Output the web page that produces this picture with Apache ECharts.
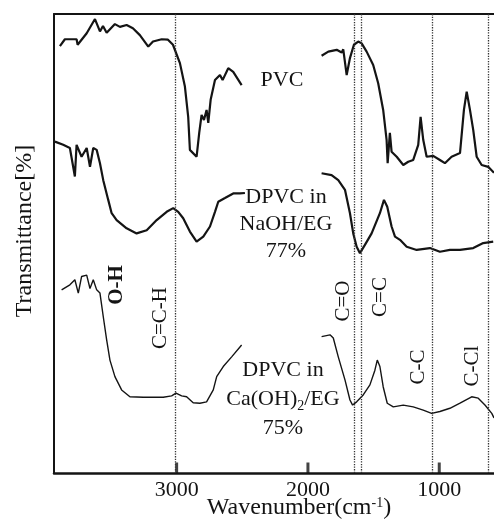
<!DOCTYPE html>
<html>
<head>
<meta charset="utf-8">
<script src="https://cdn.jsdelivr.net/npm/echarts@6/dist/echarts.min.js"></script>
<style>
  html, body { margin: 0; padding: 0; background: #fff; }
  #chart { width: 494px; height: 519px; }
</style>
</head>
<body>
<div id="chart"></div>
<script>
// FTIR spectra, [wavenumber (cm-1), transmittance (offset, a.u.)]
const pvcHigh = [
  [3889, 93.0], [3851, 94.5], [3762, 94.5], [3754, 93.3], [3685, 95.8], [3622, 98.9],
  [3584, 96.2], [3561, 97.4], [3533, 95.9], [3470, 97.8], [3432, 97.2], [3381, 97.6],
  [3333, 96.9], [3280, 95.4], [3216, 92.9], [3180, 94.0], [3114, 94.5], [3066, 94.4],
  [3028, 93.3], [2975, 89.3], [2937, 84.2], [2912, 77.6], [2899, 70.4], [2886, 70.0],
  [2848, 68.9], [2828, 74.1], [2810, 78.0], [2792, 76.9], [2772, 79.1], [2759, 76.3],
  [2741, 81.3], [2708, 85.6], [2670, 86.7], [2650, 85.6], [2607, 88.2], [2569, 87.4],
  [2505, 84.5]
];
const pvcLow = [
  [1896, 90.9], [1845, 91.8], [1781, 92.2], [1743, 91.6], [1731, 92.3], [1705, 86.7],
  [1680, 90.4], [1650, 93.3], [1617, 94.0], [1591, 93.6], [1553, 91.8], [1503, 88.9],
  [1465, 84.9], [1427, 79.1], [1401, 72.6], [1393, 67.5], [1376, 74.1], [1363, 70.0],
  [1324, 68.9], [1274, 67.1], [1236, 67.8], [1198, 68.2], [1160, 71.5], [1142, 77.6],
  [1122, 72.6], [1096, 68.9], [1046, 69.1], [995, 68.2], [957, 67.5], [906, 68.9],
  [842, 69.7], [812, 79.1], [791, 83.1], [766, 79.1], [741, 74.7], [715, 68.9],
  [677, 67.1], [627, 66.7], [583, 65.4]
];
const naohHigh = [
  [3927, 72.2], [3864, 71.5], [3813, 70.8], [3775, 64.6], [3762, 71.5], [3724, 68.9],
  [3685, 70.8], [3660, 66.7], [3635, 70.8], [3609, 70.4], [3584, 67.5], [3559, 63.8],
  [3521, 59.5], [3495, 56.6], [3457, 55.1], [3381, 53.3], [3305, 52.2], [3228, 52.9],
  [3152, 55.1], [3076, 56.9], [3026, 57.7], [2988, 56.9], [2950, 55.5], [2899, 52.6],
  [2848, 50.4], [2797, 51.5], [2746, 53.7], [2708, 56.9], [2683, 59.1], [2632, 59.9],
  [2569, 60.9], [2518, 60.9], [2480, 61.0]
];
const naohLow = [
  [1896, 65.3], [1820, 64.9], [1769, 63.8], [1718, 61.7], [1680, 56.6], [1655, 52.2],
  [1629, 49.3], [1604, 47.9], [1566, 49.7], [1515, 52.2], [1452, 56.6], [1421, 59.5],
  [1396, 58.0], [1363, 53.7], [1337, 51.5], [1299, 50.8], [1248, 49.3], [1172, 48.6],
  [1071, 49.0], [995, 48.2], [919, 48.6], [842, 48.6], [741, 49.0], [665, 50.1],
  [589, 50.4]
];
const caHigh = [
  [3876, 39.9], [3813, 41.0], [3775, 42.1], [3749, 39.2], [3724, 42.8], [3685, 43.1],
  [3660, 40.2], [3635, 42.1], [3609, 39.9], [3584, 39.2], [3559, 34.1], [3533, 29.0],
  [3508, 24.6], [3470, 21.0], [3419, 18.1], [3356, 16.6], [3254, 16.5], [3102, 16.5],
  [3038, 16.8], [3005, 17.4], [2962, 16.8], [2924, 16.6], [2874, 15.3], [2823, 15.2],
  [2772, 15.5], [2721, 18.1], [2695, 21.0], [2645, 23.2], [2581, 25.3], [2505, 27.9]
];
const caLow = [
  [1896, 29.7], [1832, 30.1], [1807, 29.4], [1769, 25.3], [1718, 20.3], [1680, 15.9],
  [1660, 14.8], [1629, 15.5], [1579, 17.0], [1528, 19.2], [1490, 22.4], [1472, 24.6],
  [1452, 23.2], [1427, 18.8], [1396, 15.2], [1350, 14.4], [1274, 14.8], [1198, 14.4],
  [1122, 13.7], [1058, 13.0], [995, 13.4], [919, 14.1], [842, 15.2], [753, 16.6],
  [703, 16.3], [652, 14.8], [600, 13.0], [583, 12.0]
];
const bandLines = [3010, 1650, 1596, 1050, 630];
const tickValues = [3000, 2000, 1000];

const serif = '"Liberation Serif", "DejaVu Serif", serif';
const ink = '#141414';

function spectrum(name, high, low, width) {
  return {
    name,
    type: 'line',
    data: high.concat([[null, null]], low),
    showSymbol: false,
    connectNulls: false,
    lineStyle: { color: ink, width },
    silent: true,
  };
}

const chart = echarts.init(document.getElementById('chart'));

const series = [
  spectrum('PVC', pvcHigh, pvcLow, 2.2),
  spectrum('NaOH/EG', naohHigh, naohLow, 2.2),
  spectrum('Ca(OH)2/EG', caHigh, caLow, 1.4),
];
series[0].markLine = {
  silent: true,
  symbol: 'none',
  label: { show: false },
  lineStyle: { color: '#333', type: 'dotted', width: 1.3 },
  data: bandLines.map((x) => ({ xAxis: x })),
};
// short inner tick marks standing on the bottom axis
series.push({
  type: 'scatter',
  silent: true,
  clip: false,
  data: tickValues.map((x) => [x, 0]),
  symbol: 'rect',
  symbolSize: [3, 11],
  symbolOffset: [0, -5],
  itemStyle: { color: ink },
});

function vText(text, x, y, bold) {
  return {
    type: 'text',
    x,
    y,
    rotation: Math.PI / 2,
    style: {
      text,
      font: (bold ? 'bold ' : '') + '21px ' + serif,
      fill: ink,
      align: 'center',
      verticalAlign: 'middle',
    },
  };
}

chart.setOption({
  animation: false,
  backgroundColor: '#fff',
  grid: { left: 54, right: 0, top: 14, bottom: 46 },
  xAxis: [
    {
      type: 'value',
      inverse: true,
      min: 583,
      max: 3934,
      axisLine: { show: true, lineStyle: { color: ink, width: 2.5 } },
      axisTick: { show: false },
      axisLabel: {
        customValues: tickValues,
        formatter: (v) => String(v),
        color: ink,
        fontFamily: serif,
        fontSize: 22,
        margin: 6,
      },
      splitLine: { show: false },
    },
    {
      type: 'value',
      position: 'top',
      inverse: true,
      min: 583,
      max: 3934,
      axisLine: { show: true, lineStyle: { color: ink, width: 2 } },
      axisTick: { show: false },
      axisLabel: { show: false },
      splitLine: { show: false },
    },
  ],
  yAxis: {
    type: 'value',
    min: 0,
    max: 100,
    axisLine: { show: true, lineStyle: { color: ink, width: 2 } },
    axisTick: { show: false },
    axisLabel: { show: false },
    splitLine: { show: false },
  },
  series,
  graphic: [
    {
      type: 'text',
      x: 25,
      y: 231,
      rotation: Math.PI / 2,
      style: {
        text: 'Transmittance[%]',
        font: '24px ' + serif,
        fill: ink,
        align: 'center',
        verticalAlign: 'middle',
      },
    },
    {
      type: 'text',
      x: 299,
      y: 508,
      style: {
        text: 'Wavenumber(cm{sup|-1})',
        font: '24px ' + serif,
        fill: ink,
        align: 'center',
        verticalAlign: 'middle',
        rich: {
          sup: { fontSize: 14, fontFamily: serif, verticalAlign: 'top', lineHeight: 22 },
        },
      },
    },
    {
      type: 'text',
      x: 282,
      y: 80,
      style: { text: 'PVC', font: '22px ' + serif, fill: ink, align: 'center', verticalAlign: 'middle' },
    },
    {
      type: 'text',
      x: 286,
      y: 224,
      style: {
        text: 'DPVC in\nNaOH/EG\n77%',
        font: '22px ' + serif,
        lineHeight: 27,
        fill: ink,
        align: 'center',
        verticalAlign: 'middle',
      },
    },
    {
      type: 'text',
      x: 283,
      y: 399,
      style: {
        text: 'DPVC in\nCa(OH){sub|2}/EG\n75%',
        font: '22px ' + serif,
        lineHeight: 29,
        fill: ink,
        align: 'center',
        verticalAlign: 'middle',
        rich: {
          sub: { fontSize: 14, fontFamily: serif, verticalAlign: 'bottom', lineHeight: 22 },
        },
      },
    },
    vText('O-H', 117, 285, true),
    vText('C=C-H', 160, 318),
    vText('C=O', 343, 301),
    vText('C=C', 380, 297),
    vText('C-C', 418, 367),
    vText('C-Cl', 472, 366),
  ],
});
</script>
</body>
</html>
